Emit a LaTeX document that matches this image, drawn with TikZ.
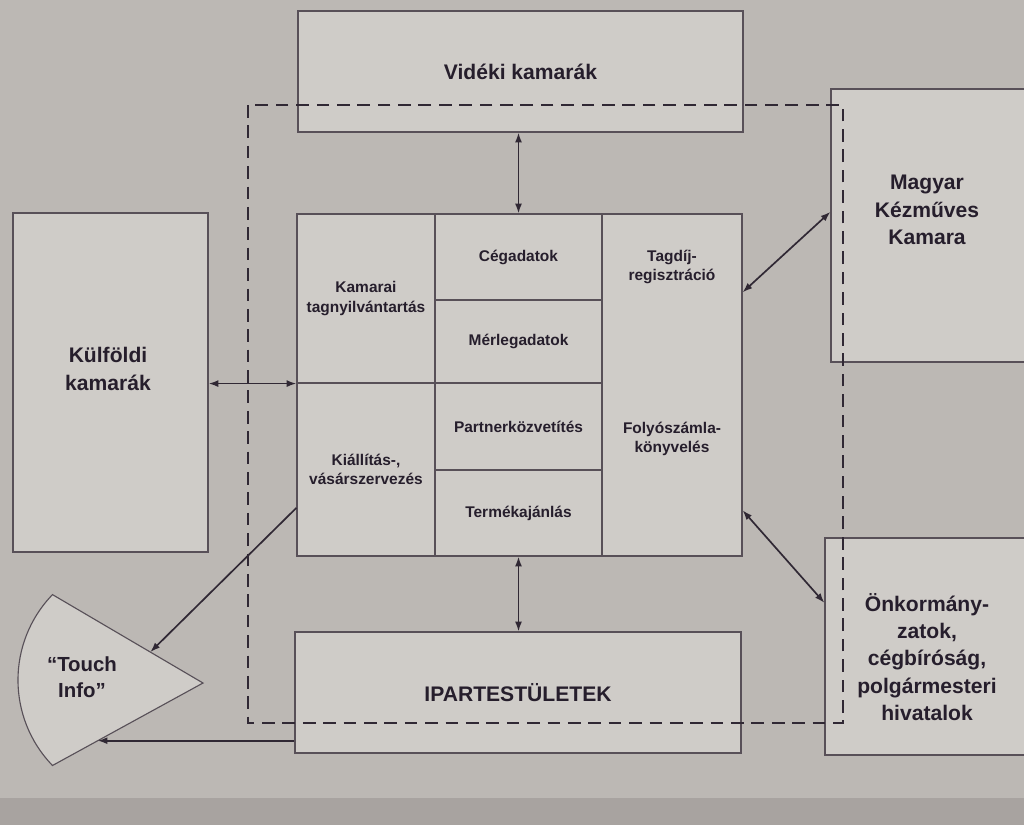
\documentclass[tikz,border=0pt]{standalone}
\usepackage{fontspec}
\setmainfont{Liberation Sans}
\usepackage{tikz}
\usetikzlibrary{arrows.meta,calc}
\newlength{\egyseg}
\setlength{\egyseg}{0.025cm}
\definecolor{hatter}{RGB}{188,184,180}
\definecolor{sav}{RGB}{168,163,160}
\definecolor{doboz}{RGB}{207,204,200}
\definecolor{vonal}{RGB}{88,80,88}
\definecolor{nyilszin}{RGB}{48,40,52}
\definecolor{betu}{RGB}{38,30,44}

\begin{document}
\begin{tikzpicture}[x=0.025cm,y=-0.025cm,>={Latex[length=7pt,width=5pt]},line width=0.8pt,
  keret/.style={draw=vonal,fill=doboz,inner sep=0pt,align=center,text=betu,
    font=\bfseries\fontsize{15}{19.5}\selectfont},
  cella/.style={draw=vonal,fill=doboz,inner sep=0pt,align=center,text=betu,
    font=\bfseries\fontsize{11}{14}\selectfont},
  nagybetu/.style={align=center,text=betu,font=\bfseries\fontsize{15}{19.5}\selectfont},
  kisbetu/.style={align=center,text=betu,font=\bfseries\fontsize{11}{14}\selectfont},
  nyil/.style={draw=nyilszin,line width=1.2pt,->},
  kettos/.style={draw=nyilszin,line width=1.2pt,<->}]
\useasboundingbox (0,0) rectangle (1024,825);
\fill[hatter] (0,0) rectangle (1024,825);
\fill[sav] (0,798) rectangle (1024,825);

% kulso szervezetek
\node[keret,minimum width=445\egyseg,minimum height=121\egyseg] (videki) at (520.5,71.5) {Vidéki kamarák};
\node[keret,minimum width=195\egyseg,minimum height=339\egyseg] (kulfoldi) at (110.5,382.5) {};
\node[nagybetu] at (108,369) {Külföldi\\kamarák};
\node[keret,minimum width=200\egyseg,minimum height=273\egyseg] (magyar) at (931,225.5) {};
\node[nagybetu] at (927,210) {Magyar\\Kézműves\\Kamara};
\node[keret,minimum width=205\egyseg,minimum height=217\egyseg] (onkorm) at (927.5,646.5) {};
\node[nagybetu] at (927,657) {Önkormány-\\zatok,\\cégbíróság,\\polgármesteri\\hivatalok};
\node[keret,minimum width=446\egyseg,minimum height=121\egyseg] (ipar) at (518,692.5) {IPARTESTÜLETEK};

% kozponti tabla
\node[cella,minimum width=138\egyseg,minimum height=169\egyseg] (kamarai) at (366,298.5) {Kamarai\\tagnyilvántartás};
\node[cella,minimum width=138\egyseg,minimum height=173\egyseg] (kiallitas) at (366,469.5) {Kiállítás-,\\vásárszervezés};
\node[cella,minimum width=167\egyseg,minimum height=86\egyseg] (ceg) at (518.5,257) {Cégadatok};
\node[cella,minimum width=167\egyseg,minimum height=83\egyseg] (merleg) at (518.5,341.5) {Mérlegadatok};
\node[cella,minimum width=167\egyseg,minimum height=87\egyseg] (partner) at (518.5,426.5) {Partnerközvetítés};
\node[cella,minimum width=167\egyseg,minimum height=86\egyseg] (termek) at (518.5,513) {Termékajánlás};
\node[cella,minimum width=140\egyseg,minimum height=342\egyseg] (jobb) at (672,385) {};
\node[kisbetu] (tagdij) at (672,267) {Tagdíj-\\regisztráció};
\node[kisbetu] (folyo) at (672,439) {Folyószámla-\\könyvelés};

% Touch Info
\coordinate (csucs) at (203,683);
\coordinate (tfel) at (52.5,594.6);
\coordinate (talj) at (52.5,765.4);
\draw[vonal,fill=doboz] (csucs) -- (tfel) arc[start angle=136,end angle=224,radius=123\egyseg] -- cycle;
\node[nagybetu,font=\bfseries\fontsize{14.5}{18.5}\selectfont] (touch) at (82,677) {“Touch\\Info”};
\coordinate (tfe) at ($(tfel)!.65!(csucs)$);
\coordinate (tbe) at ($(talj)!.3!(csucs)$);

% szaggatott keret
\draw[nyilszin,dash pattern=on 9pt off 5.5pt] (248,105) rectangle (843,723);

% kapcsolatok
\draw[kettos] (videki.south -| ceg.north) -- (ceg.north);
\draw[kettos] (termek.south) -- (ipar.north -| termek.south);
\draw[kettos] (kulfoldi.east |- kamarai.south west) -- (kamarai.south west);
\draw[kettos] ($(jobb.north east)!.23!(jobb.south east)$) -- ($(magyar.north west)!.45!(magyar.south west)$);
\draw[kettos] ($(jobb.north east)!.865!(jobb.south east)$) -- ($(onkorm.north west)!.3!(onkorm.south west)$);
\draw[nyil] ($(kiallitas.north west)!.72!(kiallitas.south west)$) -- (tfe);
\draw[nyil] (ipar.west |- tbe) -- (tbe);
\end{tikzpicture}
\end{document}
